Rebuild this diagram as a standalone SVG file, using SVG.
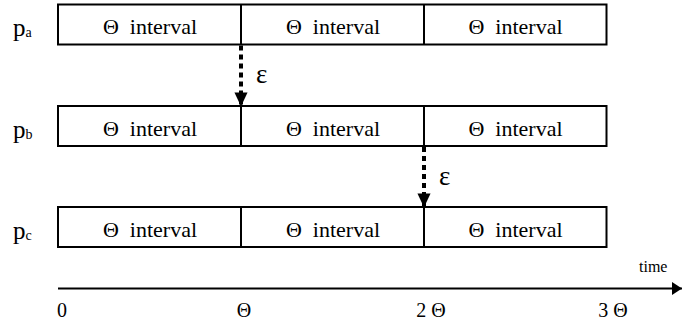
<svg xmlns="http://www.w3.org/2000/svg" width="682" height="324" viewBox="0 0 682 324" font-family="Liberation Serif, Tinos, Times New Roman, DejaVu Serif, serif">
  <style>
    .cell { fill: #ffffff; stroke: #000000; stroke-width: 2; }
    .div { stroke: #000000; stroke-width: 2; }
    text { font-size: 22px; fill: #000000; }
    .mid { text-anchor: middle; }
    .p { font-size: 25px; }
    .sub { font-size: 14px; }
    .eps { font-size: 27px; }
    .tick { font-size: 20px; }
    .dash { stroke: #000000; stroke-width: 4; stroke-dasharray: 5 4; fill: none; }
    .axis { stroke: #000000; stroke-width: 2; fill: none; }
  </style>
  <defs>
    <marker id="tri" viewBox="0 0 14 15" refX="14" refY="7" markerWidth="15" markerHeight="14" markerUnits="userSpaceOnUse" orient="auto">
      <path d="M0,0 L15,7 L0,14 Z" fill="#000000"/>
    </marker>
    <marker id="tri-axis" viewBox="0 0 10 13" refX="10" refY="6.5" markerWidth="10" markerHeight="13" markerUnits="userSpaceOnUse" orient="auto">
      <path d="M0,0 L10,6.5 L0,13 Z" fill="#000000"/>
    </marker>
  </defs>

  <!-- process a -->
  <g id="pa">
    <text class="p" x="13" y="36">p<tspan class="sub" dy="1">a</tspan></text>
    <rect class="cell" x="58" y="4.5" width="548.5" height="40"/>
    <line class="div" x1="241" y1="4.5" x2="241" y2="44.5"/>
    <line class="div" x1="424" y1="4.5" x2="424" y2="44.5"/>
    <text class="mid" x="150" y="34" xml:space="preserve">Θ  interval</text>
    <text class="mid" x="333" y="34" xml:space="preserve">Θ  interval</text>
    <text class="mid" x="515.5" y="34" xml:space="preserve">Θ  interval</text>
  </g>

  <!-- process b -->
  <g id="pb">
    <text class="p" x="13" y="138">p<tspan class="sub" dy="1">b</tspan></text>
    <rect class="cell" x="58" y="106" width="548.5" height="40"/>
    <line class="div" x1="241" y1="106" x2="241" y2="146"/>
    <line class="div" x1="424" y1="106" x2="424" y2="146"/>
    <text class="mid" x="150" y="135.5" xml:space="preserve">Θ  interval</text>
    <text class="mid" x="333" y="135.5" xml:space="preserve">Θ  interval</text>
    <text class="mid" x="515.5" y="135.5" xml:space="preserve">Θ  interval</text>
  </g>

  <!-- process c -->
  <g id="pc">
    <text class="p" x="13" y="239">p<tspan class="sub" dy="1">c</tspan></text>
    <rect class="cell" x="58" y="207" width="548.5" height="40"/>
    <line class="div" x1="241" y1="207" x2="241" y2="247"/>
    <line class="div" x1="424" y1="207" x2="424" y2="247"/>
    <text class="mid" x="150" y="236.5" xml:space="preserve">Θ  interval</text>
    <text class="mid" x="333" y="236.5" xml:space="preserve">Θ  interval</text>
    <text class="mid" x="515.5" y="236.5" xml:space="preserve">Θ  interval</text>
  </g>

  <!-- delay arrows and time axis -->
  <g id="connectors">
    <line class="dash" x1="241" y1="45.5" x2="241" y2="105.5" marker-end="url(#tri)"/>
    <text class="eps" x="256" y="83">ε</text>
    <line class="dash" x1="424" y1="147" x2="424" y2="206.5" marker-end="url(#tri)"/>
    <text class="eps" x="439" y="185">ε</text>

    <line class="axis" x1="58" y1="288.5" x2="682" y2="288.5" marker-end="url(#tri-axis)"/>
    <text x="639" y="272" style="font-size:16px">time</text>
  </g>

  <g id="ticks">
    <text class="tick mid" x="62" y="317">0</text>
    <text class="tick mid" x="244" y="317">Θ</text>
    <text class="tick mid" x="431" y="317" xml:space="preserve">2 Θ</text>
    <text class="tick mid" x="613" y="317" xml:space="preserve">3 Θ</text>
  </g>
</svg>
